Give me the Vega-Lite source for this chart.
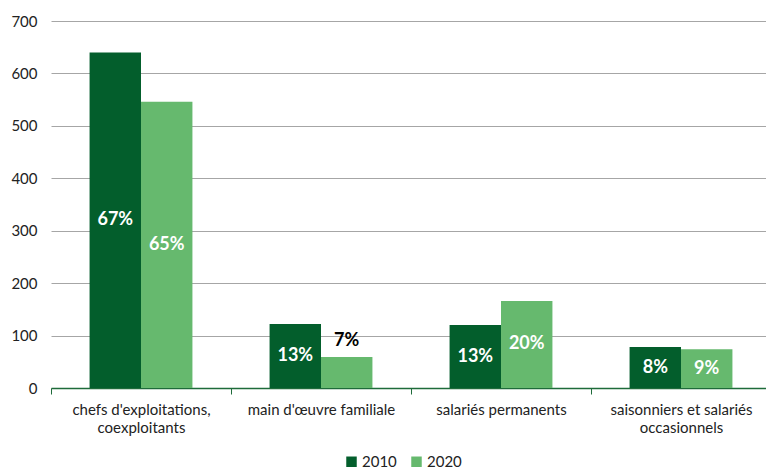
{
  "$schema": "https://vega.github.io/schema/vega-lite/v6.json",
  "width": 720,
  "height": 367,
  "autosize": {"type": "none"},
  "padding": {"left": 51, "top": 21, "right": 0, "bottom": 82},
  "config": {"font": "Lato", "view": {"stroke": null}},
  "data": {
    "values": [
      {"category": "chefs d'exploitations,\ncoexploitants", "year": "2010", "value": 640, "pct": "67%"},
      {"category": "chefs d'exploitations,\ncoexploitants", "year": "2020", "value": 546, "pct": "65%"},
      {"category": "main d'œuvre familiale", "year": "2010", "value": 122, "pct": "13%"},
      {"category": "main d'œuvre familiale", "year": "2020", "value": 59, "pct": "7%"},
      {"category": "salariés permanents", "year": "2010", "value": 120, "pct": "13%"},
      {"category": "salariés permanents", "year": "2020", "value": 166, "pct": "20%"},
      {"category": "saisonniers et salariés\noccasionnels", "year": "2010", "value": 78, "pct": "8%"},
      {"category": "saisonniers et salariés\noccasionnels", "year": "2020", "value": 74, "pct": "9%"}
    ]
  },
  "encoding": {
    "x": {
      "field": "category",
      "type": "nominal",
      "sort": null,
      "scale": {"paddingInner": 0, "paddingOuter": 0},
      "axis": {
        "title": null,
        "labelAngle": 0,
        "labelExpr": "split(datum.label, '\\n')",
        "labelFontSize": 15,
        "labelColor": "#222222",
        "labelLineHeight": 18,
        "labelPadding": 8,
        "domainColor": "#1e6b3a",
        "domainWidth": 1.5,
        "tickColor": "#1e6b3a",
        "tickSize": 6,
        "tickBand": "extent",
        "grid": false
      }
    },
    "xOffset": {"field": "year", "type": "nominal", "scale": {"paddingOuter": 0.75, "paddingInner": 0}}
  },
  "layer": [
    {
      "mark": {"type": "bar"},
      "encoding": {
        "y": {
          "field": "value",
          "type": "quantitative",
          "scale": {"domain": [0, 700]},
          "axis": {
            "title": null,
            "values": [0, 100, 200, 300, 400, 500, 600, 700],
            "labelOverlap": false,
            "domain": false,
            "ticks": false,
            "labelPadding": 14,
            "labelFontSize": 15,
            "labelColor": "#222222",
            "gridColor": "#a6a6a6",
            "gridWidth": 1
          }
        },
        "color": {
          "field": "year",
          "type": "nominal",
          "scale": {"domain": ["2010", "2020"], "range": ["#035e2c", "#66b96e"]},
          "legend": {
            "title": null,
            "orient": "none",
            "legendX": 293,
            "legendY": 433,
            "direction": "horizontal",
            "symbolType": "square",
            "symbolSize": 110,
            "symbolStrokeWidth": 0,
            "labelFontSize": 15,
            "labelColor": "#222222",
            "labelOffset": 3,
            "columnPadding": 12
          }
        }
      }
    },
    {
      "transform": [{"filter": "datum.value >= 70"}, {"calculate": "datum.value / 2", "as": "mid"}],
      "mark": {"type": "text", "color": "white", "fontWeight": "bold", "fontSize": 18, "baseline": "middle"},
      "encoding": {
        "y": {
          "field": "mid",
          "type": "quantitative",
          "scale": {"domain": [0, 700]},
          "axis": {
            "title": null,
            "values": [0, 100, 200, 300, 400, 500, 600, 700],
            "labelOverlap": false,
            "domain": false,
            "ticks": false,
            "labelPadding": 14,
            "labelFontSize": 15,
            "labelColor": "#222222",
            "gridColor": "#a6a6a6",
            "gridWidth": 1
          }
        },
        "text": {"field": "pct"}
      }
    },
    {
      "transform": [{"filter": "datum.value < 70"}],
      "mark": {"type": "text", "color": "black", "fontWeight": "bold", "fontSize": 18, "baseline": "bottom", "dy": -7},
      "encoding": {
        "y": {
          "field": "value",
          "type": "quantitative",
          "scale": {"domain": [0, 700]},
          "axis": {
            "title": null,
            "values": [0, 100, 200, 300, 400, 500, 600, 700],
            "labelOverlap": false,
            "domain": false,
            "ticks": false,
            "labelPadding": 14,
            "labelFontSize": 15,
            "labelColor": "#222222",
            "gridColor": "#a6a6a6",
            "gridWidth": 1
          }
        },
        "text": {"field": "pct"}
      }
    }
  ]
}
